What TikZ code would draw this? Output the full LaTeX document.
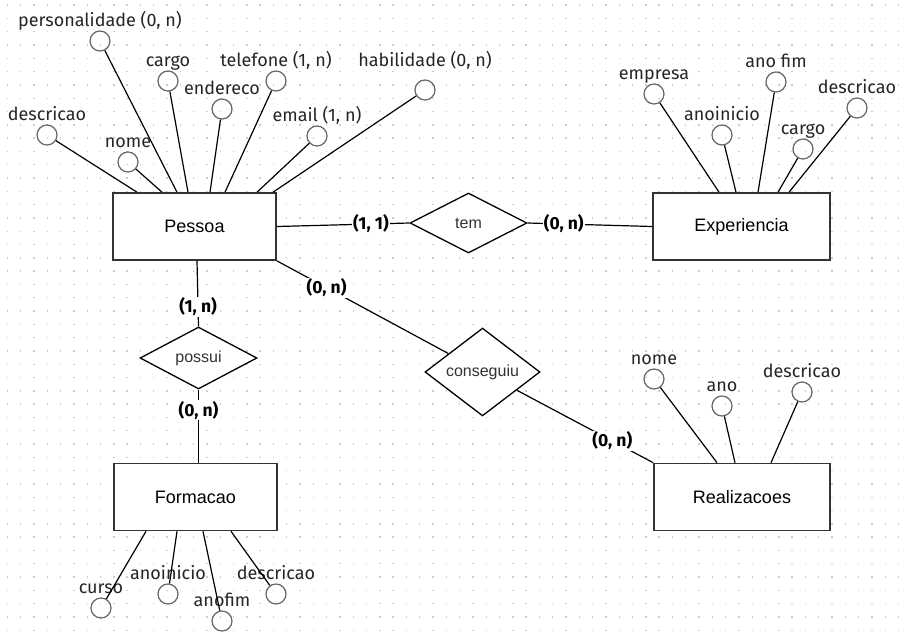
\documentclass[tikz,border=0pt]{standalone}
\usepackage{fontspec}
\setmainfont{Fira Sans}
\newfontfamily\arialfont{Liberation Sans}
\usetikzlibrary{shapes.geometric}

\begin{document}
\begin{tikzpicture}[x=1pt,y=-1pt]
        \tikzstyle{entidade}=[draw=black!80,line width=1.6pt,fill=white,minimum width=163pt,minimum height=67pt,font=\arialfont\fontsize{18}{20}\selectfont];
        \tikzstyle{relacao}=[diamond,draw=black,line width=1.3pt,fill=white,minimum width=117pt,minimum height=60pt,inner sep=0pt,font=\arialfont\fontsize{16}{18}\selectfont,text=black!80];
        \tikzstyle{atributo}=[circle,draw=black!60,line width=1.2pt,minimum size=20pt,inner sep=0pt];
        \tikzstyle{card}=[fill=white,inner sep=1pt,font=\bfseries\fontsize{17.5}{20}\selectfont];
        \tikzset{every label/.style={inner sep=0pt,text height=12pt,text depth=4pt,font=\fontsize{18}{20}\selectfont,text=black!85}}
        \tikzstyle{liga}=[line width=1.2pt];

        \useasboundingbox[fill=white] (0,0) rectangle (907,643);
        % grade de pontos
        \foreach \i in {0,...,67}{
          \foreach \j in {0,...,47}{
            \fill[black!20] (6.7+13.3*\i,4.4+13.3*\j) rectangle ++(1.4,1.4);
          }
        }

        \node[entidade](pessoa) at (194.5,226.5) {Pessoa};
        \node[entidade,minimum width=177pt](experiencia) at (741.5,226.5) {Experiencia};
        \node[entidade](formacao) at (195.5,497) {Formacao};
        \node[entidade,minimum width=176pt](realizacoes) at (742,497) {Realizacoes};

        \node[relacao](tem) at (468.5,223) {tem};
        \node[relacao,minimum height=62pt](possui) at (198.5,358) {possui};
        \node[relacao,minimum width=115pt](conseguiu) at (482.5,372) {conseguiu};

        \draw[liga] (pessoa.east) -- node[card,pos=0.71] {(1, 1)} (tem.west);
        \draw[liga] (tem.east) -- node[card,pos=0.29] {(0, n)} (experiencia.west);
        \draw[liga] ([xshift=2.5pt]pessoa.south) -- node[card,pos=0.7] {(1, n)} (possui.north);
        \draw[liga] (possui.south) -- node[card,pos=0.28] {(0, n)} ([xshift=3pt]formacao.north);
        \draw[liga] (pessoa.south east) -- node[card,pos=0.29] {(0, n)} (conseguiu);
        \draw[liga] (conseguiu) -- node[card,pos=0.7] {(0, n)} (realizacoes.north west);

        % atributos
        \foreach \n/\x/\y/\t/\dx/\ld in {pa1/100/41/{personalidade (0, n)}/-17.5/0, pa2/168/81/cargo/-6.5/0,
            pa3/222/109/endereco/15.5/0, pa4/276/81/{telefone (1, n)}/30.5/0, pa5/425/90/{habilidade (0, n)}/78.5/9,
            pa6/317/136/{email (1, n)}/62.5/0, pa7/47/135/descricao/-57.5/0, pa8/128/162/nome/-32.5/0}{
          \node[atributo,label={[label distance=\ld pt]above:\t}](\n) at (\x,\y) {};
          \draw[liga] (\n) -- ([xshift=\dx]pessoa.north);
        }
        \foreach \n/\x/\y/\t/\dx in {ea1/654/94/empresa/-22.5, ea2/722/135/anoinicio/-5.5,
            ea3/776/82/ano fim/16.5, ea4/803/149/cargo/36.5, ea5/857/108/descricao/47.5}{
          \node[atributo,label={above:\t}](\n) at (\x,\y) {};
          \draw[liga] (\n) -- ([xshift=\dx]experiencia.north);
        }
        \foreach \n/\x/\y/\t/\dx in {ra1/654/379/nome/-25, ra2/722/406/ano/-7, ra3/802/392/descricao/29}{
          \node[atributo,label={above:\t}](\n) at (\x,\y) {};
          \draw[liga] (\n) -- ([xshift=\dx]realizacoes.north);
        }
        \foreach \n/\x/\y/\t/\dx in {fa1/101/608/curso/-49.5, fa2/168/594/anoinicio/-18.5,
            fa3/222/621/anofim/7.5, fa4/276/594/descricao/35.5}{
          \node[atributo,label={above:\t}](\n) at (\x,\y) {};
          \draw[liga] (\n) -- ([xshift=\dx]formacao.south);
        }
      \end{tikzpicture}
\end{document}
